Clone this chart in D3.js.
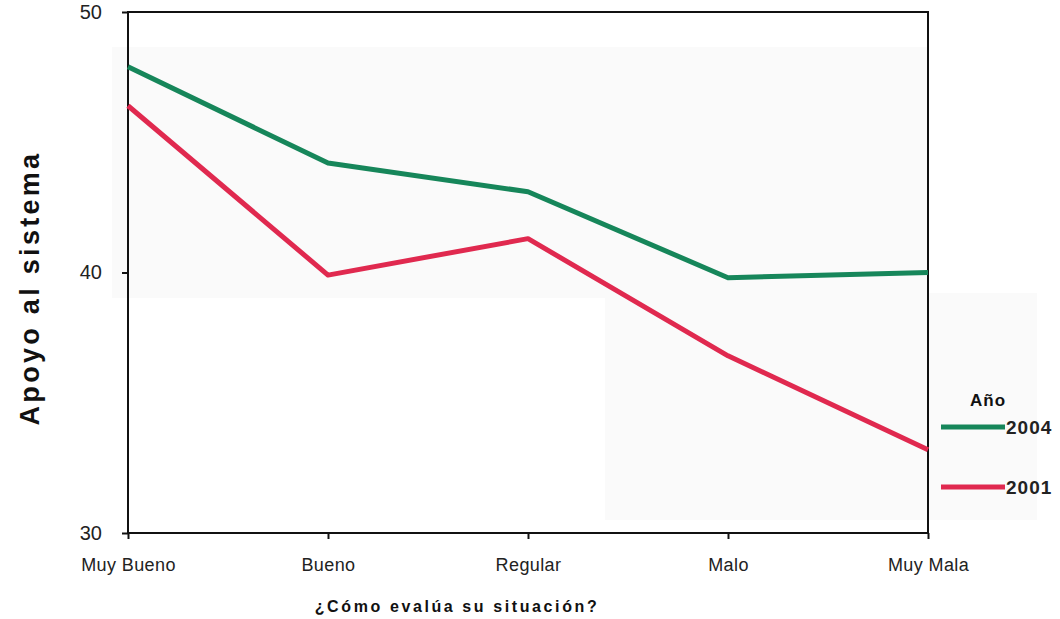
<!DOCTYPE html>
<html><head><meta charset="utf-8">
<script src="https://cdn.jsdelivr.net/npm/d3@7"></script>
<style>body{margin:0;background:#fff}svg{display:block}</style>
</head><body>
<svg id="c" width="1060" height="619"></svg>
<script>
const categories = ["Muy Bueno","Bueno","Regular","Malo","Muy Mala"];
const years = ["2004","2001"];
const values2004 = [47.9, 44.2, 43.1, 39.8, 40.0];
const values2001 = [46.4, 39.9, 41.3, 36.8, 33.2];
const yTicks = [30, 40, 50];
const colors = {"2004":"#16865a","2001":"#e0294f"};

const svg = d3.select("#c");
const m = {l:128, r:928, t:12, b:533};
const x = d3.scalePoint().domain(categories).range([m.l, m.r]);
const y = d3.scaleLinear().domain([30,50]).range([m.b, m.t]);

// faint scan shading
svg.append("rect").attr("x",112).attr("y",47).attr("width",815).attr("height",251).attr("fill","#fafafa");
svg.append("rect").attr("x",605).attr("y",293).attr("width",432).attr("height",227).attr("fill","#fafafa");

// frame
svg.append("rect").attr("x",m.l).attr("y",m.t).attr("width",m.r-m.l).attr("height",m.b-m.t)
  .attr("fill","none").attr("stroke","#111").attr("stroke-width",2);

const font = "'Liberation Sans', Arial, sans-serif";
const ya = svg.append("g").attr("transform",`translate(${m.l},0)`)
  .call(d3.axisLeft(y).tickValues(yTicks).tickSize(6).tickPadding(20).tickFormat(d3.format("d")));
ya.select(".domain").remove();
ya.selectAll("line").attr("stroke","#111").attr("stroke-width",2);
ya.selectAll("text").attr("font-family",font).attr("font-size",20).attr("fill","#222");

const xa = svg.append("g").attr("transform",`translate(0,${m.b})`)
  .call(d3.axisBottom(x).tickSize(6).tickPadding(19));
xa.select(".domain").remove();
xa.selectAll("line").attr("stroke","#111").attr("stroke-width",2);
xa.selectAll("text").attr("font-family",font).attr("font-size",18).attr("letter-spacing",0.4).attr("fill","#222");

const line = d3.line().x((d,i)=>x(categories[i])).y(d=>y(d));
const series = {"2004":values2004, "2001":values2001};
years.forEach(k=>{
  svg.append("path").datum(series[k]).attr("d",line).attr("fill","none")
    .attr("stroke",colors[k]).attr("stroke-width",5).attr("stroke-linejoin","round");
});

// axis titles
svg.append("text").attr("transform","translate(39,288) rotate(-90)").attr("text-anchor","middle")
  .attr("font-family",font).attr("font-weight","bold").attr("font-size",27).attr("fill","#111")
  .attr("letter-spacing",3.3).text("Apoyo al sistema");
svg.append("text").attr("x",457).attr("y",612).attr("text-anchor","middle")
  .attr("font-family",font).attr("font-weight","bold").attr("font-size",16).attr("fill","#111")
  .attr("letter-spacing",2.6).text("¿Cómo evalúa su situación?");

// legend
svg.append("text").attr("x",970).attr("y",406).attr("font-family",font).attr("font-weight","bold")
  .attr("font-size",17).attr("fill","#111").attr("letter-spacing",1).text("Año");
const ly = d3.scalePoint().domain(years).range([427,487]);
years.forEach(k=>{
  svg.append("line").attr("x1",941).attr("x2",1005).attr("y1",ly(k)).attr("y2",ly(k))
    .attr("stroke",colors[k]).attr("stroke-width",5);
  svg.append("text").attr("x",1006).attr("y",ly(k)+7).attr("font-family",font).attr("font-weight","bold")
    .attr("font-size",19).attr("fill","#222").attr("letter-spacing",1).text(k);
});
</script>
</body></html>
